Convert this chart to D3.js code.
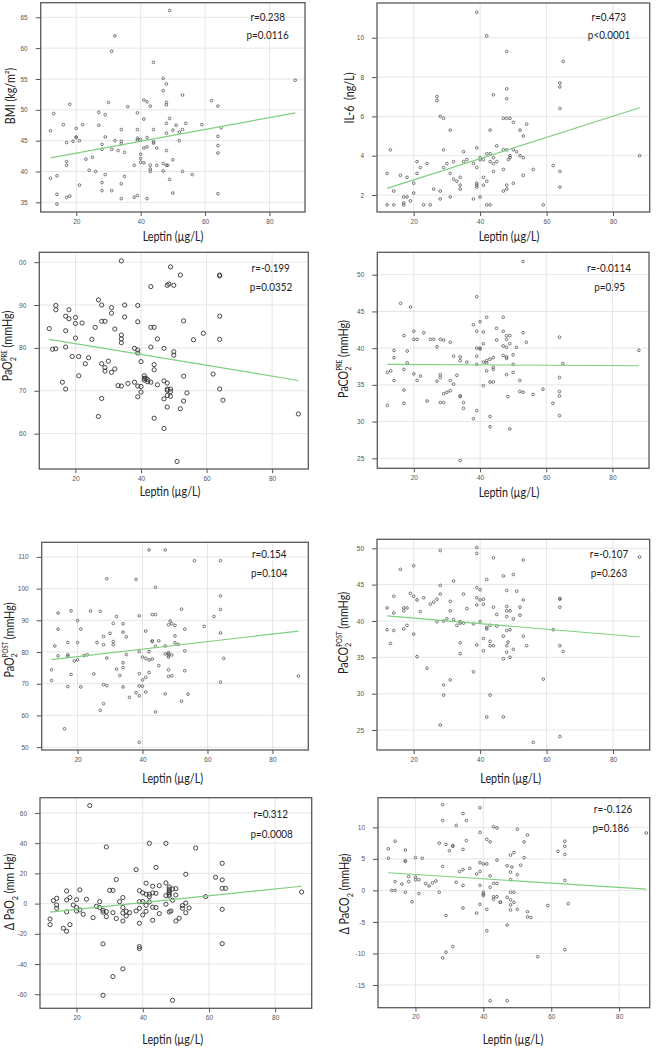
<!DOCTYPE html>
<html><head><meta charset="utf-8">
<script src="https://cdn.jsdelivr.net/npm/d3@7"></script>
<style>body{margin:0;background:#fff}svg{display:block}</style>
</head><body>
<svg id="c" width="658" height="1048"></svg>
<script>
// ---------------- DATA ----------------
const xTicks = [20, 40, 60, 80];

const bmiTicks = [35, 40, 45, 50, 55, 60, 65];
const il6Ticks = [2, 4, 6, 8, 10];
const pao2PreTicks = [60, 70, 80, 90, 100];
const pao2PreTickLabels = ["60", "70", "80", "90", "00"];
const paco2PreTicks = [25, 30, 35, 40, 45, 50];
const pao2PostTicks = [50, 60, 70, 80, 90, 100, 110];
const paco2PostTicks = [25, 30, 35, 40, 45, 50];
const dPao2Ticks = [-60, -40, -20, 0, 20, 40, 60];
const dPaco2Ticks = [-15, -10, -5, 0, 5, 10];

const bmiPoints = [[12,46.6],[12,38.9],[13,49.4],[14,39.3],[14,36.3],[14,34.7],[16,47.6],[17,44.7],[17,41.6],[17,41.0],[17,35.8],[18,50.9],[18,36.0],[19,44.9],[20,47.0],[20,45.6],[20,45.5],[21,45.0],[21,37.8],[22,47.6],[23,42.0],[24,40.2],[25,42.3],[26,40.0],[27,49.6],[27,47.5],[28,44.4],[28,43.6],[28,38.2],[28,36.9],[29,49.2],[29,45.6],[29,39.5],[30,51.2],[31,59.5],[31,43.6],[31,36.9],[32,62.0],[32,45.0],[33,43.4],[34,46.8],[34,44.9],[34,44.5],[34,38.0],[34,35.6],[35,43.1],[35,39.2],[36,50.5],[38,41.0],[38,35.8],[39,49.5],[39,46.8],[39,45.4],[39,45.1],[39,36.1],[40,45.2],[40,42.8],[40,42.1],[40,41.5],[41,51.6],[41,48.5],[41,43.8],[41,41.4],[42,51.3],[42,45.5],[42,44.0],[42,35.6],[43,50.6],[43,41.0],[43,40.4],[43,40.0],[44,57.7],[44,46.8],[44,44.8],[44,44.6],[45,43.8],[45,41.0],[47,55.1],[47,53.1],[47,41.3],[47,40.1],[48,54.2],[48,51.2],[48,50.8],[48,47.8],[48,46.2],[48,43.4],[48,41.0],[48.4,41.0],[49,66.1],[49,48.6],[49,38.7],[50,46.7],[50,41.9],[50,36.5],[51,47.5],[52,46.4],[52,45.0],[53,52.4],[53,46.8],[53,40.0],[54,47.8],[56,39.5],[59,47.6],[62,51.5],[64,50.6],[64,45.7],[64,44.2],[64,43.0],[64,36.4],[65,47.1],[88,54.8]];
const bmiFit = [[12,42.2],[88,49.5]];

const il6Points = [[12,3.1],[12,1.5],[13,4.3],[14,2.2],[14,1.5],[16,3.0],[17,1.9],[17,1.6],[17,1.5],[18,2.9],[18,1.9],[19,1.7],[20,2.6],[20,2.1],[21,3.7],[21,3.1],[22,3.4],[23,1.5],[24,3.6],[25,1.5],[26,2.3],[27,7.0],[27,6.8],[28,6.0],[28,2.2],[28,1.8],[29,5.9],[29,4.3],[29,3.4],[30,3.6],[31,5.3],[31,3.1],[31,1.9],[32,3.7],[32,2.8],[33,2.7],[34,2.9],[34,2.5],[34,2.3],[35,4.2],[35,3.7],[36,3.8],[38,3.6],[38,1.8],[39,11.3],[39,4.4],[39,3.4],[39,2.6],[39,2.5],[39,2.4],[40,3.9],[40,3.8],[40,1.9],[41,3.8],[41,2.9],[41,2.5],[42,10.1],[42,4.1],[42,2.7],[42,1.5],[43,5.3],[43,4.1],[43,3.7],[43,1.5],[44,7.1],[44,3.9],[44,3.6],[44,3.2],[45,4.5],[45,3.7],[47,5.9],[47,4.3],[47,3.3],[47,2.2],[48,9.3],[48,7.4],[48,6.9],[48,5.9],[48,4.3],[48,2.5],[48,2.3],[48.5,3.8],[49,5.9],[49,4.0],[49,3.9],[50,5.7],[50,4.3],[50,2.6],[51,4.2],[52,5.3],[52,4.0],[53,5.0],[53,3.9],[53,3.0],[54,5.6],[56,3.3],[59,1.5],[62,3.5],[64,7.7],[64,7.5],[64,6.4],[64,3.2],[64,2.4],[65,8.8],[88,4.0]];
const il6Fit = [[12,2.34],[88,6.44]];

const pao2PrePoints = [[12,84.5],[13,79.7],[14,89.9],[14,88.9],[14,79.8],[16,72.0],[17,87.4],[17,84.0],[17,80.2],[17,70.4],[18,88.9],[18,86.8],[19,78.0],[20,87.1],[20,85.7],[20,82.3],[21,78.0],[21,73.5],[22,85.8],[23,76.3],[24,77.7],[25,82.0],[26,84.8],[27,91.2],[27,64.0],[28,90.0],[28,86.2],[28,76.3],[28,68.2],[29,86.2],[29,75.4],[29,74.6],[30,76.9],[31,89.4],[31,88.1],[31,74.3],[32,84.4],[32,75.1],[33,71.2],[34,100.3],[34,83.0],[34,82.1],[34,81.2],[34,71.1],[35,90.0],[35,87.2],[36,71.7],[38,79.9],[38,72.0],[39,89.9],[39,86.1],[39,79.5],[39,78.8],[39,71.1],[39,68.6],[40,76.8],[40,71.0],[40,69.7],[41,73.5],[41,72.9],[41,72.5],[41.5,72.9],[42,72.6],[42,72.1],[43,94.3],[43,84.8],[43,80.2],[43,72.0],[44,84.8],[44,76.1],[44,74.9],[44,63.6],[45,82.1],[45,71.4],[47,79.9],[47,72.3],[47,68.1],[47,61.2],[48,94.6],[48.5,94.9],[48,71.8],[48,70.4],[48,70.1],[48,68.9],[48,66.2],[49,98.9],[49,70.4],[49,69.8],[49,68.7],[50,94.6],[50,79.1],[50,78.3],[51,53.5],[52,97.0],[52,65.8],[53,86.3],[53,73.4],[53,67.6],[54,69.5],[56,81.9],[59,83.4],[62,73.9],[64,97.0],[64,96.8],[64,87.4],[64,82.0],[64,70.4],[65,67.8],[88,64.6]];
const pao2PreFit = [[12,82.0],[88,72.4]];

const paco2PrePoints = [[12,36.7],[12,32.2],[13,36.9],[14,39.7],[14,38.7],[14,35.6],[16,46.1],[17,41.7],[17,37.1],[17,34.3],[17,32.5],[18,39.6],[18,38.0],[19,45.6],[20,42.3],[20,41.2],[20,36.5],[21,41.2],[21,35.6],[22,36.2],[23,42.1],[24,32.8],[25,41.2],[26,41.2],[27,40.2],[27,35.5],[28,41.2],[28,36.4],[28,36.0],[28,32.6],[29,41.1],[29,33.8],[29,32.6],[30,34.0],[31,40.8],[31,35.6],[31,34.2],[32,38.9],[32,35.1],[33,36.3],[34,38.8],[34,38.3],[34,33.5],[34,33.4],[34,24.7],[35,32.6],[35,31.8],[36,38.1],[38,43.2],[38,30.4],[39,47.0],[39,42.3],[39,40.0],[39,38.9],[39,37.8],[39,31.5],[40,43.6],[40,40.0],[40,39.9],[41,42.2],[41,40.6],[41,38.1],[41,34.9],[42,44.2],[42,38.3],[42,38.0],[42,36.9],[43,38.5],[43,35.4],[43,30.7],[43,29.3],[44,38.7],[44,37.4],[44,37.1],[44,35.4],[45,42.7],[45,41.1],[47,44.2],[47,42.3],[47,40.3],[47,39.0],[48,41.7],[48,41.2],[48,40.1],[48,38.8],[48,38.6],[48,36.4],[48.4,33.4],[49,41.7],[49,40.6],[49,29.0],[50,39.1],[50,37.8],[50,36.7],[51,40.1],[52,35.6],[52,34.1],[53,51.8],[53,42.1],[53,34.0],[54,40.8],[56,33.7],[59,34.4],[62,32.5],[64,41.5],[64,36.0],[64,34.1],[64,33.5],[64,30.8],[65,37.9],[88,39.7]];
const paco2PreFit = [[12,37.8],[88,37.6]];

const pao2PostPoints = [[12,74.4],[12,71.0],[13,81.9],[14,92.3],[14,87.2],[14,78.8],[16,55.8],[17,83.0],[17,79.1],[17,78.6],[17,69.1],[18,93.0],[18,72.9],[19,77.2],[20,89.9],[20,83.0],[20,77.5],[21,87.2],[21,69.0],[22,78.9],[23,79.1],[24,92.9],[25,73.1],[26,83.0],[27,92.8],[27,61.6],[28,84.9],[28,82.3],[28,69.7],[28,63.7],[29,103.1],[29,78.1],[29,69.4],[30,85.9],[31,89.0],[31,83.3],[31,82.3],[32,91.2],[32,74.6],[33,72.6],[34,88.9],[34,86.3],[34,76.6],[34,75.1],[34,69.0],[35,84.8],[35,79.2],[36,65.7],[38,102.9],[38,67.2],[39,91.4],[39,80.1],[39,73.2],[39,69.3],[39,66.2],[39,51.5],[40,78.4],[40,71.2],[40,69.2],[41,86.6],[41,78.0],[41,72.0],[41,67.4],[42,112.2],[42,80.1],[42,77.5],[42,73.5],[43,91.8],[43,83.5],[43,83.3],[43,77.8],[44,100.4],[44,91.8],[44,81.8],[44,61.1],[45,83.5],[45,75.7],[47,112.2],[47,81.9],[47,79.4],[47,66.8],[48,88.6],[48,79.8],[48,79.4],[48,78.9],[48,78.4],[48,74.4],[48,72.3],[48.5,89.8],[49,88.9],[49,79.1],[49,72.5],[50,88.4],[50,85.1],[50,82.9],[51,82.4],[52,93.5],[52,64.5],[53,87.2],[53,80.4],[53,74.1],[54,66.7],[56,108.8],[59,88.1],[62,91.2],[64,108.8],[64,97.7],[64,93.4],[64,86.0],[64,70.5],[65,78.0],[88,72.4]];
const pao2PostFit = [[12,77.6],[88,86.6]];

const paco2PostPoints = [[12,41.8],[12,38.8],[13,36.9],[14,43.4],[14,41.1],[14,38.7],[16,47.1],[17,41.8],[17,41.4],[17,38.9],[18,41.8],[18,39.4],[19,43.8],[20,47.6],[20,43.4],[20,38.2],[21,42.9],[21,35.1],[22,41.3],[23,43.2],[24,33.5],[25,42.3],[26,42.6],[27,43.0],[27,39.9],[28,49.7],[28,44.9],[28,43.7],[28,25.7],[29,40.0],[29,31.2],[29,29.8],[30,40.3],[31,42.7],[31,41.4],[31,31.9],[32,45.5],[32,40.2],[33,39.4],[34,39.9],[34,39.7],[34,37.0],[34,35.5],[35,43.7],[35,39.7],[36,41.7],[38,39.6],[38,33.0],[39,50.1],[39,49.3],[39,44.6],[39,43.2],[39,42.2],[39,36.7],[40,44.3],[40,42.9],[40,39.9],[41,43.0],[41,42.3],[41,37.6],[41,35.9],[42,45.7],[42,39.1],[42,38.9],[42,26.8],[43,39.4],[43,37.2],[43,36.6],[43,29.8],[44,48.7],[44,41.9],[44,36.6],[45,40.9],[45,39.3],[47,46.2],[47,37.9],[47,34.8],[47,26.8],[48,44.2],[48,42.0],[48,41.4],[48,40.6],[48,38.7],[48,36.6],[48,35.7],[48.4,37.1],[49,41.4],[49,38.8],[49,35.0],[50,46.4],[50,40.3],[50,36.1],[51,44.1],[52,41.9],[52,40.8],[53,48.4],[53,42.9],[53,37.9],[54,36.6],[56,23.3],[59,32.0],[62,38.8],[64,43.1],[64,43.0],[64,41.9],[64,36.6],[64,24.1],[65,35.8],[88,48.8]];
const paco2PostFit = [[12,40.7],[88,37.8]];

const dPao2Points = [[12,-10.2],[12,-13.9],[13,2.0],[14,3.5],[14,-0.9],[14,-3.1],[16,-16.3],[17,8.4],[17,2.4],[17,-5.5],[17,-18.3],[18,4.0],[18,-13.9],[19,-0.9],[20,2.6],[20,-2.6],[20,-4.9],[21,9.1],[21,-4.2],[22,-7.1],[23,2.9],[24,64.9],[25,-9.3],[26,-1.8],[27,1.3],[27,-2.6],[28,-4.4],[28,-5.7],[28,-26.7],[28,-60.7],[29,37.5],[29,-5.3],[29,-8.6],[30,8.8],[31,8.8],[31,-6.0],[31,-48.3],[32,15.9],[32,-9.9],[33,1.3],[34,4.0],[34,-2.6],[34,-6.2],[34,-11.5],[34,-43.2],[35,-5.1],[35,-8.2],[36,-6.0],[38,22.5],[38,-4.9],[39,8.6],[39,1.3],[39,-3.1],[39,-13.0],[39,-28.5],[39,-29.8],[40,7.1],[40,1.3],[40,-7.5],[41,13.5],[41,6.2],[41,-1.1],[41,-5.1],[42,39.9],[42,6.2],[42,4.6],[42,1.1],[43,11.5],[43,7.1],[43,-2.4],[43,-11.0],[44,24.0],[44,6.8],[44,-2.6],[45,11.9],[45,-6.6],[47,39.9],[47,13.7],[47,5.3],[47,-0.4],[48,11.0],[48,9.5],[48,8.4],[48,7.3],[48,6.2],[48,5.1],[48,-5.5],[48.5,-4.9],[49,9.7],[49,2.2],[49,-64.0],[50,9.9],[50,5.7],[50,-11.5],[51,-9.7],[52,-1.3],[52,-3.1],[53,19.4],[53,0.4],[53,-6.0],[54,-2.9],[56,36.8],[59,4.6],[62,17.4],[64,26.7],[64,15.7],[64,10.1],[64,-3.8],[64,-26.5],[65,10.1],[88,7.7]];
const dPao2Fit = [[12,-5.7],[88,11.5]];

const dPaco2Points = [[12,6.6],[12,5.1],[13,0.0],[14,7.8],[14,1.4],[14,0.0],[16,1.0],[17,6.4],[17,4.7],[17,4.6],[17,-0.3],[18,2.2],[18,1.4],[19,-1.8],[20,5.2],[20,2.1],[20,1.7],[21,1.7],[21,-0.5],[22,5.1],[23,1.1],[24,0.7],[25,1.2],[26,1.5],[27,7.5],[27,-0.3],[28,13.6],[28,11.1],[28,3.8],[28,-10.7],[29,7.3],[29,-4.0],[29,-9.8],[30,6.3],[31,7.1],[31,7.0],[31,-8.9],[32,10.3],[32,1.3],[33,3.0],[34,12.2],[34,6.5],[34,3.3],[34,0.8],[34,-2.8],[35,11.1],[35,7.9],[36,3.5],[38,2.6],[38,-3.6],[39,13.1],[39,9.2],[39,4.4],[39,3.0],[39,0.8],[39,-2.2],[40,4.2],[40,-0.3],[40,-0.6],[40,-0.8],[41,4.2],[41,8.1],[41,-3.0],[41,-6.4],[42,7.7],[42,2.3],[42,0.5],[42,-17.5],[43,10.1],[43,1.1],[43,-1.0],[43,-1.4],[44,9.9],[44,4.8],[44,1.1],[44,-1.0],[45,-1.9],[45,-1.85],[47,3.9],[47,-1.1],[47,-5.5],[47,-17.5],[48,5.6],[48,2.9],[48,1.7],[48,-0.3],[48,-1.5],[48,-2.3],[48,-3.1],[48.4,3.7],[49,6.0],[49,-0.3],[49,-1.9],[50,9.7],[50,2.5],[50,-3.0],[51,4.0],[52,7.7],[52,5.2],[53,8.8],[53,-3.4],[53,-4.2],[54,-4.3],[56,-10.5],[59,-2.4],[62,6.2],[64,7.8],[64,7.0],[64,5.7],[64,1.6],[64,-9.4],[65,-2.1],[88,9.1]];
const dPaco2Fit = [[12,2.8],[88,0.2]];

// ---------------- LAYOUT ----------------
const panels = [
  {pts: bmiPoints, fit: bmiFit, yTicks: bmiTicks, xDom: [8.96, 91.04], yDom: [33.43, 67.37], box: [40.7, 305, 2.7, 212], r: 1.35,
   stats: ["r=0.238", "p=0.0116"], statXY: [[267.7, 20.7], [267.7, 39]],
   xl: [173, 240.5], yl: [15, 96], ylab: [{t: "BMI (kg/m²)"}]},
  {pts: il6Points, fit: il6Fit, yTicks: il6Ticks, xDom: [8.96, 91.04], yDom: [1.135, 11.77], box: [377, 649.7, 3, 212], r: 1.35,
   stats: ["r=0.473", "p<0.0001"], statXY: [[608.7, 21], [609, 39]],
   xl: [509, 241], yl: [354, 98], ylab: [{t: "IL-6\u00a0\u00a0(ng/L)"}]},
  {pts: pao2PrePoints, fit: pao2PreFit, yTicks: pao2PreTicks, yLabels: pao2PreTickLabels, xDom: [8.96, 91.04], yDom: [51.75, 102.3], box: [39.3, 308.3, 252.3, 469], r: 2.1,
   stats: ["r=-0.199", "p=0.0352"], statXY: [[270.7, 271.7], [271, 290.7]],
   xl: [170, 496], yl: [12, 346], ylab: [{t: "PaO"}, {t: "2", sub: true}, {t: "PRE", sup: true}, {t: " (mmHg)", back: true}]},
  {pts: paco2PrePoints, fit: paco2PreFit, yTicks: paco2PreTicks, xDom: [8.96, 91.04], yDom: [23.64, 53.05], box: [377.3, 649, 252.3, 468.3], r: 1.35,
   stats: ["r=-0.0114", "p=0.95"], statXY: [[609, 271.7], [609.7, 290.7]],
   xl: [509, 497], yl: [347.5, 359], ylab: [{t: "PaCO"}, {t: "2", sub: true}, {t: "PRE", sup: true}, {t: " (mmHg)", back: true}]},
  {pts: pao2PostPoints, fit: pao2PostFit, yTicks: pao2PostTicks, xDom: [8.96, 91.04], yDom: [49.1, 114.6], box: [41.7, 308.3, 542.3, 750], r: 1.35,
   stats: ["r=0.154", "p=0.104"], statXY: [[269.3, 558.3], [269.3, 576.7]],
   xl: [172.7, 783], yl: [13.5, 640], ylab: [{t: "PaO"}, {t: "2", sub: true}, {t: "POST", sup: true}, {t: " (mmHg)", back: true}]},
  {pts: paco2PostPoints, fit: paco2PostFit, yTicks: paco2PostTicks, xDom: [8.96, 91.04], yDom: [22.25, 51.24], box: [377, 649.7, 539.3, 750], r: 1.35,
   stats: ["r=-0.107", "p=0.263"], statXY: [[609, 558.3], [609, 576.7]],
   xl: [510.7, 783], yl: [347.5, 633], ylab: [{t: "PaCO"}, {t: "2", sub: true}, {t: "POST", sup: true}, {t: " (mmHg)", back: true}]},
  {pts: dPao2Points, fit: dPao2Fit, yTicks: dPao2Ticks, xDom: [8.96, 91.04], yDom: [-69.3, 70.1], box: [40, 311.7, 797.7, 1008.3], r: 2.1,
   stats: ["r=0.312", "p=0.0008"], statXY: [[270.7, 818.3], [271.7, 837.7]],
   xl: [172.7, 1044], yl: [14, 892], ylab: [{t: "Δ PaO"}, {t: "2", sub: true}, {t: " (mm Hg)", back: true}]},
  {pts: dPaco2Points, fit: dPaco2Fit, yTicks: dPaco2Ticks, xDom: [8.96, 89.0], yDom: [-18.6, 14.7], box: [378, 649.7, 797.7, 1007.7], r: 1.35,
   stats: ["r=-0.126", "p=0.186"], statXY: [[613, 813.3], [610.7, 832.3]],
   xl: [513, 1044], yl: [349, 894], ylab: [{t: "Δ PaCO"}, {t: "2", sub: true}, {t: " (mmHg)", back: true}]}
];

const svg = d3.select("#c");
const TITLE_FONT = "Lato, 'Open Sans', sans-serif";
const SX = 0.86;

panels.forEach(p => {
  const [l, r, t, b] = p.box;
  const x = d3.scaleLinear().domain(p.xDom).range([l, r]);
  const y = d3.scaleLinear().domain(p.yDom).range([b, t]);
  const g = svg.append("g");

  // grid
  g.selectAll(".vg").data(xTicks).join("line")
    .attr("x1", d => x(d)).attr("x2", d => x(d)).attr("y1", t).attr("y2", b)
    .attr("stroke", "#e6e6e6").attr("stroke-width", 1);
  g.selectAll(".hg").data(p.yTicks).join("line")
    .attr("y1", d => y(d)).attr("y2", d => y(d)).attr("x1", l).attr("x2", r)
    .attr("stroke", "#e6e6e6").attr("stroke-width", 1);

  // axes
  const yAxis = d3.axisLeft(y).tickValues(p.yTicks).tickSize(5).tickPadding(8)
    .tickFormat((d, i) => p.yLabels ? p.yLabels[i] : String(d));
  const ya = g.append("g").attr("transform", `translate(${l},0)`).call(yAxis);
  const xAxis = d3.axisBottom(x).tickValues(xTicks).tickSize(4).tickPadding(3).tickFormat(d => String(d));
  const xa = g.append("g").attr("transform", `translate(0,${b})`).call(xAxis);
  [ya, xa].forEach(a => {
    a.select(".domain").remove();
    a.selectAll("line").attr("stroke", "#555");
    a.selectAll("text").attr("fill", "#555").attr("font-size", 6.5)
      .attr("font-family", "'Liberation Sans', Arial, sans-serif");
  });

  // frame
  g.append("rect").attr("x", l).attr("y", t).attr("width", r - l).attr("height", b - t)
    .attr("fill", "none").attr("stroke", "#5a5a5a").attr("stroke-width", 1.3);

  // points
  g.append("g").selectAll("circle").data(p.pts).join("circle")
    .attr("cx", d => x(d[0])).attr("cy", d => y(d[1])).attr("r", p.r)
    .attr("fill", "none").attr("stroke", p.r > 2 ? "#333" : "#555")
    .attr("stroke-width", p.r > 2 ? 0.9 : 0.8);

  // fit line
  g.append("path").datum(p.fit)
    .attr("d", d3.line().x(d => x(d[0])).y(d => y(d[1])))
    .attr("fill", "none").attr("stroke", "#7fcf7f").attr("stroke-width", 1.2);

  // stats
  p.stats.forEach((s, i) => {
    g.append("text").attr("transform", `translate(${p.statXY[i][0]},${p.statXY[i][1]}) scale(${SX},1)`)
      .attr("text-anchor", "middle").attr("font-family", TITLE_FONT).attr("font-size", 11.5)
      .attr("fill", "#222").text(s);
  });

  // x title
  g.append("text").attr("transform", `translate(${p.xl[0]},${p.xl[1]}) scale(${SX},1)`)
    .attr("text-anchor", "middle").attr("font-family", TITLE_FONT).attr("font-size", 12.5)
    .attr("fill", "#222").text("Leptin (µg/L)");

  // y title
  const yt = g.append("text").attr("transform", `translate(${p.yl[0]},${p.yl[1]}) rotate(-90) scale(${SX},1)`)
    .attr("text-anchor", "middle").attr("font-family", TITLE_FONT).attr("font-size", 12.5)
    .attr("fill", "#222");
  let subW = 0;
  p.ylab.forEach(part => {
    const ts = yt.append("tspan").text(part.t);
    if (part.sub) { ts.attr("font-size", 8.5).attr("dy", 3.5); subW = 4.6; }
    else if (part.sup) { ts.attr("font-size", 7).attr("dx", -subW).attr("dy", -9); part._up = true; }
    else if (part.back) {
      const hadSup = p.ylab.some(q => q.sup);
      ts.attr("dy", hadSup ? 5.5 : -3.5);
    }
  });
});
</script>
</body></html>
